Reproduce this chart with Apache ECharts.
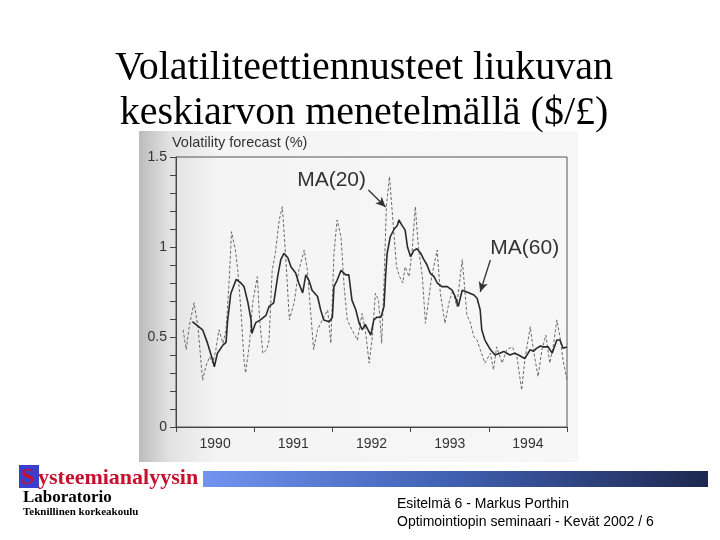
<!DOCTYPE html>
<html><head><meta charset="utf-8">
<script src="https://cdn.jsdelivr.net/npm/echarts@6/dist/echarts.min.js"></script>
<style>html,body{margin:0;padding:0;background:#fff}#c{width:720px;height:540px}</style>
</head><body><div id="c"></div>
<script>
// ---- data (decimal years, volatility %) ----
const yearLabels = ['1990', '1991', '1992', '1993', '1994'];
const yLabelValues = [0, 0.5, 1, 1.5];

const ma60Time = [1990.21,1990.34,1990.40,1990.47,1990.49,1990.53,1990.60,1990.64,1990.66,1990.70,1990.77,1990.83,1990.87,1990.92,1990.96,1990.97,
  1991.02,1991.08,1991.15,1991.19,1991.25,1991.30,1991.34,1991.38,1991.43,1991.47,1991.53,1991.57,1991.62,1991.66,1991.70,1991.74,1991.81,1991.85,1991.89,1991.96,
  1992.00,1992.02,1992.06,1992.11,1992.17,1992.21,1992.25,1992.30,1992.34,1992.38,1992.42,1992.49,1992.53,1992.57,1992.62,1992.66,1992.68,1992.70,1992.74,1992.79,1992.83,1992.85,1992.89,1992.93,1992.96,
  1993.00,1993.04,1993.08,1993.13,1993.17,1993.21,1993.25,1993.30,1993.34,1993.40,1993.47,1993.53,1993.57,1993.61,1993.66,1993.72,1993.81,1993.85,1993.89,1993.91,1993.95,
  1994.02,1994.08,1994.14,1994.19,1994.23,1994.27,1994.33,1994.38,1994.42,1994.46,1994.53,1994.57,1994.61,1994.66,1994.70,1994.76,1994.81,1994.87,1994.91,1994.95,1995.00];
const ma60Vol = [0.585,0.54,0.47,0.37,0.335,0.41,0.455,0.47,0.59,0.74,0.82,0.80,0.78,0.69,0.595,0.52,
  0.58,0.595,0.62,0.67,0.69,0.835,0.93,0.965,0.94,0.89,0.855,0.80,0.745,0.845,0.815,0.76,0.725,0.65,0.595,0.585,
  0.61,0.78,0.815,0.87,0.845,0.845,0.705,0.65,0.58,0.54,0.57,0.51,0.595,0.61,0.61,0.67,0.835,0.965,1.057,1.10,1.12,1.15,1.12,1.094,1.00,
  0.946,0.98,0.99,0.965,0.93,0.90,0.855,0.835,0.80,0.78,0.78,0.76,0.725,0.67,0.76,0.75,0.733,0.715,0.65,0.54,0.483,
  0.43,0.40,0.41,0.42,0.41,0.40,0.41,0.40,0.39,0.38,0.43,0.42,0.437,0.45,0.445,0.445,0.41,0.483,0.483,0.437,0.445];

const ma20Time = [1990.09,1990.13,1990.17,1990.23,1990.28,1990.34,1990.38,1990.43,1990.47,1990.51,1990.55,1990.60,1990.64,1990.68,1990.71,1990.76,1990.79,1990.83,1990.87,1990.89,1990.94,1990.98,
  1991.04,1991.07,1991.11,1991.16,1991.19,1991.23,1991.27,1991.32,1991.36,1991.40,1991.45,1991.51,1991.57,1991.64,1991.68,1991.72,1991.76,1991.81,1991.87,1991.94,1991.98,
  1992.02,1992.06,1992.11,1992.15,1992.19,1992.25,1992.32,1992.38,1992.42,1992.47,1992.51,1992.55,1992.59,1992.63,1992.66,1992.69,1992.73,1992.77,1992.82,1992.86,1992.90,1992.93,1992.98,
  1993.02,1993.06,1993.10,1993.15,1993.19,1993.23,1993.27,1993.34,1993.38,1993.44,1993.49,1993.54,1993.59,1993.66,1993.69,1993.72,1993.76,1993.81,1993.85,1993.89,1993.95,
  1994.02,1994.06,1994.10,1994.17,1994.23,1994.30,1994.36,1994.42,1994.46,1994.53,1994.57,1994.63,1994.68,1994.73,1994.78,1994.83,1994.87,1994.91,1994.95,1995.00];
const ma20Vol = [0.54,0.43,0.56,0.69,0.56,0.26,0.335,0.39,0.355,0.43,0.54,0.465,0.54,0.815,1.085,0.983,0.87,0.65,0.37,0.30,0.465,0.69,
  0.835,0.595,0.41,0.43,0.483,0.87,0.965,1.15,1.224,0.965,0.595,0.69,0.87,0.983,0.87,0.65,0.43,0.54,0.595,0.65,0.465,
  0.965,1.15,1.057,0.78,0.595,0.54,0.483,0.63,0.54,0.355,0.50,0.743,0.705,0.465,0.80,1.224,1.39,1.168,0.89,0.835,0.80,0.89,0.835,
  0.983,1.224,1.00,0.835,0.576,0.705,0.835,0.983,0.743,0.576,0.69,0.76,0.67,0.93,0.78,0.62,0.585,0.50,0.483,0.43,0.355,
  0.41,0.317,0.445,0.355,0.43,0.445,0.39,0.205,0.37,0.557,0.43,0.28,0.43,0.51,0.355,0.465,0.595,0.50,0.37,0.26];

// annotations (data coordinates)
const noteText = ['MA(20)', 'MA(60)'];
const notePos = [[1991.99, 1.372], [1994.46, 0.994]];
const arrowFrom = [[1992.46, 1.317], [1994.02, 0.928]];
const arrowTo = [[1992.68, 1.222], [1993.89, 0.75]];

const zip = (a, b) => a.map((t, i) => [t, b[i]]);

const chart = echarts.init(document.getElementById('c'));
const sans = 'Liberation Sans, Arial, sans-serif';
const serif = 'Liberation Serif, Times New Roman, serif';

chart.setOption({
  animation: false,
  backgroundColor: '#ffffff',
  title: {
    text: 'Volatiliteettiennusteet liukuvan\nkeskiarvon menetelmällä ($/£)',
    left: 359, top: 41, textAlign: 'center',
    textStyle: { fontFamily: serif, fontSize: 40, fontWeight: 'normal', color: '#000', lineHeight: 45 }
  },
  grid: { left: 176, right: 153, top: 157, bottom: 113, show: true, borderColor: '#555', borderWidth: 1, backgroundColor: 'transparent' },
  xAxis: [
    { type: 'value', min: 1990, max: 1995, interval: 1,
      axisLine: { show: true, lineStyle: { color: '#444', width: 1 } },
      axisTick: { show: true, length: 5, lineStyle: { color: '#444' } },
      axisLabel: { show: false }, splitLine: { show: false } },
    { type: 'category', data: yearLabels, position: 'bottom', boundaryGap: true,
      axisLine: { show: false }, axisTick: { show: false },
      axisLabel: { color: '#333', fontFamily: sans, fontSize: 14, margin: 10 } }
  ],
  yAxis: {
    type: 'value', min: 0, max: 1.5, interval: 0.1,
    name: 'Volatility forecast (%)', nameLocation: 'end', nameGap: 3,
    nameTextStyle: { align: 'left', verticalAlign: 'bottom', color: '#333', fontFamily: sans, fontSize: 14.5, padding: [0, 0, 0, -4] },
    axisLine: { show: true, lineStyle: { color: '#444', width: 1 } },
    axisTick: { show: true, length: 6, lineStyle: { color: '#444' } },
    splitLine: { show: false },
    axisLabel: { color: '#333', fontFamily: sans, fontSize: 14, margin: 9,
      formatter: v => { const r = Math.round(v * 10) / 10; return yLabelValues.some(y => Math.abs(y - r) < 1e-6) ? String(r) : ''; } }
  },
  series: [
    { name: 'MA(20)', type: 'line', xAxisIndex: 0, data: zip(ma20Time, ma20Vol), showSymbol: false, z: 3,
      lineStyle: { color: '#6a6a6a', width: 1, type: [3, 2] } },
    { name: 'MA(60)', type: 'line', xAxisIndex: 0, data: zip(ma60Time, ma60Vol), showSymbol: false, z: 4,
      lineStyle: { color: '#2a2a2a', width: 1.6 },
      markLine: { silent: true, symbol: ['none', 'arrow'], symbolSize: [7, 10],
        lineStyle: { color: '#333', width: 1.3, type: 'solid' }, label: { show: false },
        data: arrowFrom.map((f, i) => [{ coord: f }, { coord: arrowTo[i] }]) } }
  ]
});

function place() {
  const g = [];
  // scanned photo background
  g.push({ type: 'rect', z: -10, shape: { x: 139, y: 131, width: 439, height: 331 },
    style: { fill: new echarts.graphic.LinearGradient(0, 0, 1, 0, [
      { offset: 0, color: '#bcbcbc' }, { offset: 0.07, color: '#e2e2e2' }, { offset: 0.18, color: '#f4f4f4' }, { offset: 1, color: '#f7f7f7' }]) } });
  noteText.forEach((t, i) => {
    const p = chart.convertToPixel({ gridIndex: 0 }, notePos[i]);
    g.push({ type: 'text', x: p[0], y: p[1], z: 10,
      style: { text: t, fill: '#333', font: '21px ' + sans, align: 'center', verticalAlign: 'middle' } });
  });
  // footer
  g.push({ type: 'rect', shape: { x: 19, y: 465, width: 20, height: 23 }, style: { fill: '#3b3fd0' } });
  g.push({ type: 'text', x: 21, y: 490, style: { text: 'S', fill: '#c8102e', font: 'bold 24px ' + serif, verticalAlign: 'bottom' } });
  g.push({ type: 'text', x: 38, y: 489, style: { text: 'ysteemianalyysin', fill: '#c8102e', font: 'bold 22px ' + serif, verticalAlign: 'bottom' } });
  g.push({ type: 'rect', shape: { x: 203, y: 471, width: 505, height: 16 },
    style: { fill: new echarts.graphic.LinearGradient(0, 0, 1, 0, [
      { offset: 0, color: '#7294f0' }, { offset: 0.5, color: '#3f5fb0' }, { offset: 1, color: '#1d2850' }]) } });
  g.push({ type: 'text', x: 23, y: 506, style: { text: 'Laboratorio', fill: '#000', font: 'bold 17px ' + serif, verticalAlign: 'bottom' } });
  g.push({ type: 'text', x: 23, y: 518, style: { text: 'Teknillinen korkeakoulu', fill: '#000', font: 'bold 11px ' + serif, verticalAlign: 'bottom' } });
  g.push({ type: 'text', x: 397, y: 504, style: { text: 'Esitelmä 6 - Markus Porthin', fill: '#000', font: '14px ' + sans, verticalAlign: 'middle' } });
  g.push({ type: 'text', x: 397, y: 522, style: { text: 'Optimointiopin seminaari - Kevät 2002 / 6', fill: '#000', font: '14px ' + sans, verticalAlign: 'middle' } });
  chart.setOption({ graphic: g });
}
place();
</script>
</body></html>
